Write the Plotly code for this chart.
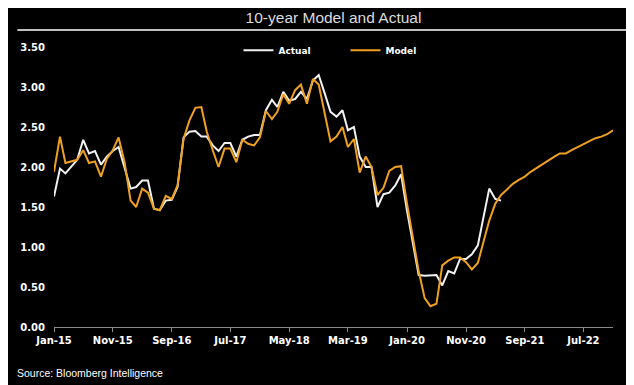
import pandas as pd
import plotly.graph_objects as go

model_values = [
    1.94, 2.38, 2.05, 2.07, 2.09, 2.21, 2.05, 2.07, 1.88, 2.10, 2.21, 2.37,
    2.06, 1.58, 1.50, 1.73, 1.68, 1.48, 1.46, 1.64, 1.60, 1.77, 2.35, 2.58,
    2.74, 2.75, 2.44, 2.21, 2.00, 2.23, 2.23, 2.06, 2.34, 2.29, 2.27, 2.37,
    2.70, 2.60, 2.69, 2.91, 2.79, 2.96, 3.03, 2.79, 3.10, 3.03, 2.65, 2.32,
    2.38, 2.50, 2.25, 2.35, 1.93, 2.13, 2.00, 1.65, 1.74, 1.95, 2.00, 2.01,
    1.54, 1.13, 0.70, 0.36, 0.26, 0.29, 0.77, 0.83, 0.87, 0.87, 0.81, 0.72,
    0.80, 1.08, 1.33, 1.54, 1.65, 1.72, 1.79, 1.84, 1.88, 1.94, 1.99, 2.03,
    2.08, 2.13, 2.17, 2.17, 2.21, 2.25, 2.29, 2.32, 2.36, 2.38, 2.41, 2.46,
]
actual_values = [
    1.63, 1.98, 1.92, 2.01, 2.09, 2.34, 2.17, 2.20, 2.03, 2.13, 2.20, 2.25,
    2.00, 1.73, 1.75, 1.83, 1.83, 1.48, 1.46, 1.58, 1.59, 1.75, 2.37, 2.44,
    2.45, 2.38, 2.38, 2.27, 2.20, 2.30, 2.30, 2.13, 2.34, 2.38, 2.40, 2.40,
    2.71, 2.84, 2.75, 2.94, 2.83, 2.85, 2.94, 2.85, 3.08, 3.15, 2.92, 2.69,
    2.63, 2.71, 2.46, 2.50, 2.13, 2.00, 2.00, 1.50, 1.66, 1.68, 1.77, 1.91,
    1.45, 1.04, 0.65, 0.64, 0.645, 0.65, 0.52, 0.70, 0.67, 0.85, 0.85, 0.91,
    1.02, 1.38, 1.73, 1.60, 1.58,
]
model_dates = pd.date_range("2015-01-01", periods=len(model_values), freq="MS")
actual_dates = model_dates[: len(actual_values)]

tick_dates = pd.date_range("2015-01-01", periods=10, freq="10MS")
tick_labels = ["Jan-15", "Nov-15", "Sep-16", "Jul-17", "May-18",
               "Mar-19", "Jan-20", "Nov-20", "Sep-21", "Jul-22"]
y_ticks = [0, 0.5, 1.0, 1.5, 2.0, 2.5, 3.0, 3.5]
y_labels = ["0.00", "0.50", "1.00", "1.50", "2.00", "2.50", "3.00", "3.50"]

# The page body adds an 8px offset; the figure is sized to fill the rest.
W, H = 626, 377
L, R, T, B = 40, 21, 39, 58
PW, PH = W - L - R, H - T - B

fig = go.Figure()
fig.add_trace(go.Scatter(x=list(actual_dates), y=actual_values, mode="lines",
                         name="Actual", line=dict(color="#f2f2f2", width=2)))
fig.add_trace(go.Scatter(x=list(model_dates), y=model_values, mode="lines",
                         name="Model", line=dict(color="#f0a020", width=2)))

fig.update_layout(
    width=W, height=H,
    paper_bgcolor="black", plot_bgcolor="black",
    margin=dict(l=L, r=R, t=T, b=B),
    showlegend=True,
    legend=dict(orientation="h", x=0.33, xanchor="left", y=1.04, yanchor="top",
                bgcolor="rgba(0,0,0,0)", itemwidth=30,
                entrywidth=62, entrywidthmode="pixels",
                font=dict(family="DejaVu Sans", size=9, color="white", weight="bold")),
    title=dict(text="10-year Model and Actual", x=0.5, xanchor="center",
               y=1 - 10 / H, yanchor="middle", xref="paper",
               font=dict(family="Liberation Sans Narrow, Arial Narrow, Liberation Sans",
                         size=15.5, color="#dcdcdc")),
    shapes=[dict(type="line", xref="paper", yref="paper",
                 x0=-(L - 3) / PW, x1=(620 - L) / PW,
                 y0=1 + (T - 22) / PH, y1=1 + (T - 22) / PH,
                 line=dict(color="white", width=1.5))],
    annotations=[dict(text="Source: Bloomberg Intelligence", xref="paper", yref="paper",
                      x=-(L - 1) / PW, y=-(365 - (H - B)) / PH, xanchor="left", yanchor="middle",
                      showarrow=False,
                      font=dict(family="Liberation Sans Narrow, Liberation Sans", size=10.5,
                                color="white"))],
)
fig.update_xaxes(
    range=[model_dates[0], model_dates[-1]],
    tickvals=list(tick_dates), ticktext=tick_labels,
    showgrid=False, zeroline=False, showline=True, linecolor="#8a8a8a", linewidth=1,
    ticks="outside", ticklen=4, tickcolor="#8a8a8a",
    tickfont=dict(family="DejaVu Sans", size=10, color="white", weight="bold"),
)
fig.update_yaxes(
    range=[0, 3.5], tickvals=y_ticks, ticktext=y_labels,
    showgrid=False, zeroline=False, showline=False, ticks="",
    ticklabelstandoff=8,
    tickfont=dict(family="DejaVu Sans", size=10, color="white", weight="bold"),
)
fig.write_html("out.html")
